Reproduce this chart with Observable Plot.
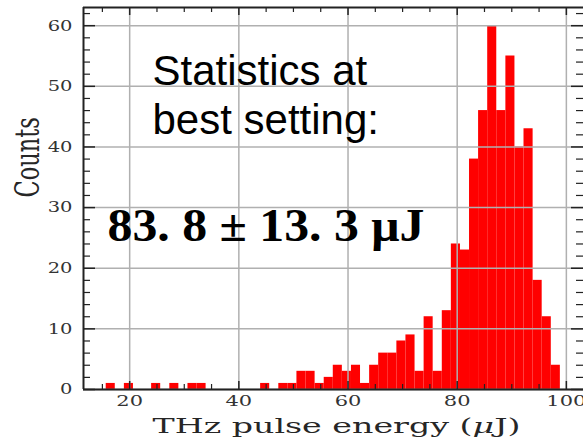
<!DOCTYPE html>
<html><head><meta charset="utf-8">
<script src="https://cdn.jsdelivr.net/npm/d3@7"></script>
<script src="https://cdn.jsdelivr.net/npm/@observablehq/plot@0.6"></script>
<style>html,body{margin:0;padding:0;background:#fff}svg{display:block}</style>
</head><body><div id="chart"></div>
<script>
// Histogram bin edges (THz pulse energy, µJ) and counts per bin
const binEdges = [15.70, 17.36, 19.03, 20.69, 22.36, 24.02, 25.68, 27.35, 29.01, 30.68,
  32.34, 34.00, 35.67, 37.33, 39.00, 40.66, 42.32, 43.99, 45.65, 47.32,
  48.98, 50.64, 52.31, 53.97, 55.64, 57.30, 58.96, 60.63, 62.29, 63.96,
  65.62, 67.28, 68.95, 70.61, 72.28, 73.94, 75.60, 77.27, 78.93, 80.60,
  82.26, 83.92, 85.59, 87.25, 88.92, 90.58, 92.24, 93.91, 95.57, 97.24, 98.90];
const counts = [1, 0, 1, 0, 0, 1, 0, 1, 0, 1,
  1, 0, 0, 0, 0, 0, 0, 1, 0, 1,
  1, 3, 3, 1, 2, 4, 3, 4, 1, 4,
  6, 6, 8, 9, 3, 12, 3, 13, 24, 23,
  38, 46, 60, 46, 55, 40, 43, 18, 12, 4];

const xMajorTicks = [20, 40, 60, 80, 100];
const xMinorTicks = [15, 25, 30, 35, 45, 50, 55, 65, 70, 75, 85, 90, 95];
const yMajorTicks = [0, 10, 20, 30, 40, 50, 60];
const yMinorTicks = [2, 4, 6, 8, 12, 14, 16, 18, 22, 24, 26, 28, 32, 34, 36, 38,
  42, 44, 46, 48, 52, 54, 56, 58, 62];
const xDomain = [11.54, 103.14];
const yDomain = [0, 63];

const xLabel = "THz pulse energy (μJ)";
const yLabel = "Counts";
const noteText = "Statistics at\nbest setting:";
const resultText = "83. 8 ± 13. 3 μJ";

const bins = counts.map((c, i) => ({x1: binEdges[i], x2: binEdges[i + 1], count: c}));

const W = 583, H = 441, mL = 83, mR = 0, mT = 7, mB = 52;
const pw = W - mL - mR, ph = H - mT - mB;
const dark = "#222";

const chart = Plot.plot({
  width: W, height: H,
  marginLeft: mL, marginRight: mR, marginTop: mT, marginBottom: mB,
  x: {domain: xDomain, axis: null},
  y: {domain: yDomain, axis: null},
  style: {background: "#fff", color: "#333", overflow: "visible"},
  marks: [
    Plot.rectY(bins, {x1: "x1", x2: "x2", y: "count", fill: "#ff0000"}),
    Plot.ruleX(xMajorTicks, {stroke: "#b0b0b0", strokeWidth: 1.5}),
    Plot.ruleY(yMajorTicks, {stroke: "#b0b0b0", strokeWidth: 1.5}),
    Plot.ruleX([xDomain[0]], {stroke: dark, strokeWidth: 2}),
    Plot.ruleY([yDomain[0], yDomain[1]], {stroke: dark, strokeWidth: 2}),
    // inward ticks: bottom & top
    Plot.tickX(xMajorTicks, {x: d => d, insetTop: ph - 8, stroke: dark, strokeWidth: 1.5}),
    Plot.tickX(xMinorTicks, {x: d => d, insetTop: ph - 5, stroke: dark, strokeWidth: 1.2}),
    Plot.tickX(xMajorTicks, {x: d => d, insetBottom: ph - 8, stroke: dark, strokeWidth: 1.5}),
    Plot.tickX(xMinorTicks, {x: d => d, insetBottom: ph - 5, stroke: dark, strokeWidth: 1.2}),
    // inward ticks: left & right
    Plot.tickY(yMajorTicks, {y: d => d, insetRight: pw - 12, stroke: dark, strokeWidth: 1.5}),
    Plot.tickY(yMinorTicks, {y: d => d, insetRight: pw - 7, stroke: dark, strokeWidth: 1.2}),
    Plot.tickY(yMajorTicks, {y: d => d, insetLeft: pw - 12, stroke: dark, strokeWidth: 1.5}),
    Plot.tickY(yMinorTicks, {y: d => d, insetLeft: pw - 7, stroke: dark, strokeWidth: 1.2}),
    // tick labels
    Plot.axisX(xMajorTicks, {anchor: "bottom", tickSize: 0, tickPadding: 6, label: null,
      fontSize: 15, fontFamily: "DejaVu Serif", fill: "#333"}),
    Plot.axisY(yMajorTicks, {anchor: "left", tickSize: 0, tickPadding: 11, label: null,
      fontSize: 15, fontFamily: "DejaVu Serif", fill: "#333"}),
    // axis titles
    Plot.text([xLabel], {frameAnchor: "bottom", dx: 3, dy: 43.7, lineAnchor: "bottom",
      fontSize: 21, fontFamily: "DejaVu Serif", fill: "#262626"}),
    Plot.text([yLabel], {frameAnchor: "left", dx: -55, dy: -1, rotate: -90,
      fontSize: 22.5, fontFamily: "DejaVu Serif", fill: "#262626"}),
    // annotations
    Plot.text([noteText], {frameAnchor: "top-left", dx: 69, dy: 126.3, lineAnchor: "bottom",
      textAnchor: "start", fontSize: 42, lineHeight: 1.167, fontFamily: "Liberation Sans",
      fill: "#000"}),
    Plot.text([resultText], {frameAnchor: "top-left", dx: 24, dy: 233, lineAnchor: "bottom",
      textAnchor: "start", fontSize: 46, fontWeight: "bold", fontFamily: "Liberation Serif",
      fill: "#000"})
  ]
});
document.getElementById("chart").appendChild(chart);

// Horizontally stretch a text element around a fixed point (start / middle / end)
function hstretch(el, s, anchor) {
  const g = document.createElementNS("http://www.w3.org/2000/svg", "g");
  el.parentNode.insertBefore(g, el);
  g.appendChild(el);
  const b = g.getBBox();
  const cx = anchor === "start" ? b.x : anchor === "end" ? b.x + b.width : b.x + b.width / 2;
  g.setAttribute("transform", `translate(${cx},0) scale(${s},1) translate(${-cx},0)`);
  return b;
}
function vstretchX(el, s) { // widen rotated text horizontally around its center
  const g = document.createElementNS("http://www.w3.org/2000/svg", "g");
  el.parentNode.insertBefore(g, el);
  g.appendChild(el);
  const b = g.getBBox();
  const cx = b.x + b.width / 2;
  g.setAttribute("transform", `translate(${cx},0) scale(${s},1) translate(${-cx},0)`);
}

const svgEl = chart;
const frameBottom = H - mB;
const tickStrings = new Set(yMajorTicks.concat(xMajorTicks).map(String));
const texts = Array.from(svgEl.querySelectorAll("text"));
for (const t of texts) {
  const s = t.textContent;
  if (s === xLabel) {
    // italic mu
    const k = s.indexOf("μ");
    t.textContent = "";
    const mk = (txt, it) => {
      const sp = document.createElementNS("http://www.w3.org/2000/svg", "tspan");
      sp.textContent = txt;
      if (it) sp.setAttribute("font-style", "italic");
      t.appendChild(sp);
    };
    mk(s.slice(0, k)); mk("μ", true); mk(s.slice(k + 1));
    const b = t.getBBox();
    hstretch(t, 368 / b.width, "middle");
  } else if (s === yLabel) {
    vstretchX(t, 1.45);
  } else if (s === resultText) {
    const b = t.getBBox();
    hstretch(t, 317 / b.width, "start");
  } else if (tickStrings.has(s)) {
    const r = t.getBoundingClientRect();
    const bottom = chart.getBoundingClientRect().top + frameBottom;
    if (r.top > bottom) hstretch(t, 1.4, "middle");
    else hstretch(t, 1.3, "end");
  }
}
</script>
</body></html>
